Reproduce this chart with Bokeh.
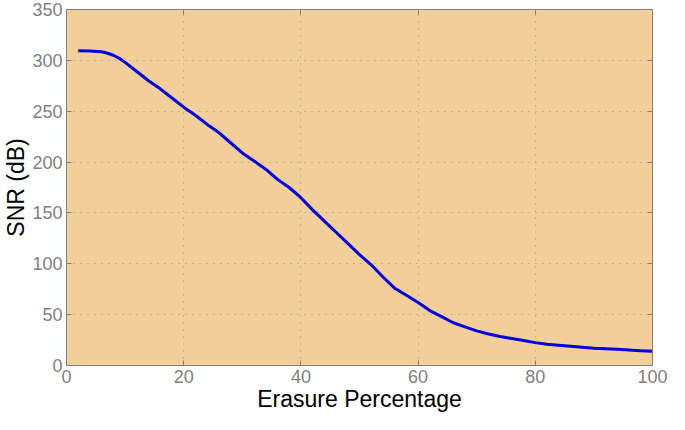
from bokeh.plotting import figure
from bokeh.models import Range1d, FixedTicker, LinearAxis, ColumnDataSource, CustomJSTickFormatter
from bokeh.embed import file_html
from bokeh.resources import INLINE

# Data
erasure_pct = [2, 4, 6, 7, 8, 9, 10, 12, 14, 16, 18, 20, 22, 24, 26, 28, 30, 32, 34, 36, 38, 40,
               42, 44, 46, 48, 50, 52, 54, 56, 58, 60, 62, 64, 66, 68, 70, 72, 74, 76, 78, 80,
               82, 84, 86, 88, 90, 92, 94, 96, 98, 100]
snr_db = [309.5, 309.3, 308.5, 307, 305, 302, 298, 289, 280, 272, 263, 254, 246, 237, 229, 219, 209, 201, 193, 183, 175, 165,
          153, 142, 131, 120, 109, 99, 87, 76, 69, 62, 54, 48, 42, 38, 34, 31, 28.5, 26.5, 24.5, 22.5,
          21, 20, 19, 18, 17, 16.5, 16, 15.2, 14.6, 14]
x_ticks = [0, 20, 40, 60, 80, 100]
y_ticks = [0, 50, 100, 150, 200, 250, 300, 350]

FONT = "Liberation Sans"
GRAY = "#808080"

p = figure(width=669, height=414, output_backend="svg", toolbar_location=None,
           x_range=Range1d(0, 100), y_range=Range1d(0, 350),
           min_border_left=60, min_border_right=17, min_border_top=9, min_border_bottom=40)

p.background_fill_color = "#F2CE98"
p.border_fill_color = "white"
p.outline_line_color = GRAY
p.outline_line_width = 1

src = ColumnDataSource(dict(x=erasure_pct, y=snr_db))
p.line("x", "y", source=src, line_color="#0000DD", line_width=3, line_join="round")

for ax in p.xaxis + p.yaxis:
    ax.axis_line_color = GRAY
    ax.major_tick_line_color = GRAY
    ax.major_tick_in = 5
    ax.major_tick_out = 0
    ax.minor_tick_line_color = None
    ax.major_label_text_color = GRAY
    ax.major_label_text_font = FONT
    ax.major_label_text_font_size = "18px"
    ax.axis_label_text_font = FONT
    ax.axis_label_text_font_size = "23px"
    ax.axis_label_text_font_style = "normal"
    ax.axis_label_text_color = "black"
    ax.major_label_standoff = 4
    ax.axis_label_standoff = 0

p.xaxis.ticker = FixedTicker(ticks=x_ticks)
p.yaxis.ticker = FixedTicker(ticks=y_ticks)
p.xaxis.axis_label = "Erasure Percentage"
p.yaxis.axis_label = "SNR (dB)"

# box ticks on right and top (no labels)
for loc, ticks in (("right", y_ticks), ("above", x_ticks)):
    ax = LinearAxis(ticker=FixedTicker(ticks=ticks),
                    formatter=CustomJSTickFormatter(code="return ''"))
    ax.axis_line_color = GRAY
    ax.major_tick_line_color = GRAY
    ax.major_tick_in = 5
    ax.major_tick_out = 0
    ax.minor_tick_line_color = None
    ax.major_label_standoff = 0
    p.add_layout(ax, loc)

p.xgrid.ticker = FixedTicker(ticks=x_ticks)
p.ygrid.ticker = FixedTicker(ticks=y_ticks)
for g in (p.xgrid[0], p.ygrid[0]):
    g.grid_line_color = "#9A8A6C"
    g.grid_line_dash = "1 6"
    g.grid_line_width = 1
    g.grid_line_alpha = 0.9

open("out.html", "w").write(file_html(p, INLINE))
